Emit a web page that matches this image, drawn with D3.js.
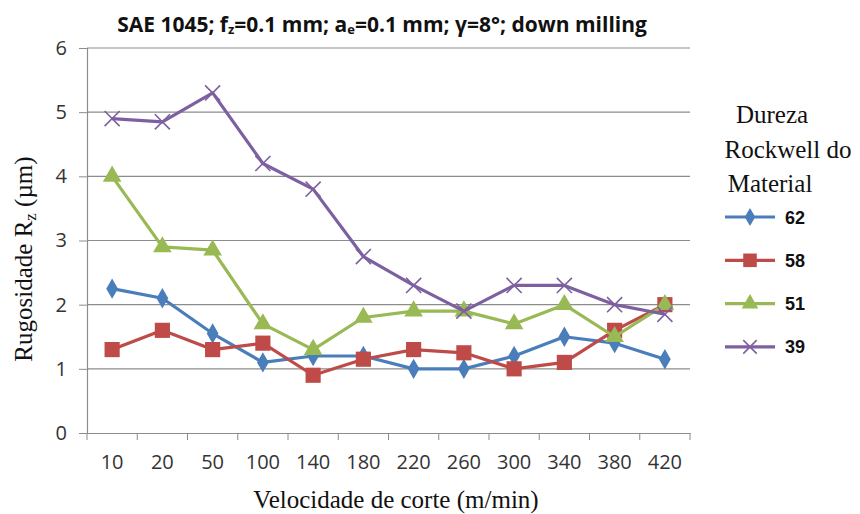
<!DOCTYPE html>
<html>
<head>
<meta charset="utf-8">
<script src="https://cdn.jsdelivr.net/npm/d3@7"></script>
<style>
  body { margin: 0; background: #fff; }
  svg { display: block; }
</style>
</head>
<body>
<div id="chart"></div>
<script>
// data
const speeds = ["10", "20", "50", "100", "140", "180", "220", "260", "300", "340", "380", "420"];
const hard62 = [2.25, 2.1, 1.55, 1.1, 1.2, 1.2, 1.0, 1.0, 1.2, 1.5, 1.4, 1.15];
const hard58 = [1.3, 1.6, 1.3, 1.4, 0.9, 1.15, 1.3, 1.25, 1.0, 1.1, 1.6, 2.0];
const hard51 = [4.0, 2.9, 2.85, 1.7, 1.3, 1.8, 1.9, 1.9, 1.7, 2.0, 1.5, 2.0];
const hard39 = [4.9, 4.85, 5.3, 4.2, 3.8, 2.75, 2.3, 1.9, 2.3, 2.3, 2.0, 1.85];
const yTicks = [0, 1, 2, 3, 4, 5, 6];

const series = [
  { name: "62", values: hard62, color: "#4a7ebb", symbol: "diamond" },
  { name: "58", values: hard58, color: "#be4b48", symbol: "square" },
  { name: "51", values: hard51, color: "#98b954", symbol: "triangle" },
  { name: "39", values: hard39, color: "#7d60a0", symbol: "cross" }
];

const width = 860, height = 514;
const margin = { top: 48, left: 87, right: 170, bottom: 81 };

const svg = d3.select("#chart").append("svg")
  .attr("width", width)
  .attr("height", height);

const x = d3.scaleBand()
  .domain(speeds)
  .range([margin.left, width - margin.right]);

const y = d3.scaleLinear()
  .domain([0, 6])
  .range([height - margin.bottom, margin.top]);

// gridlines
svg.append("g")
  .selectAll("line")
  .data(yTicks.filter(d => d > 0))
  .join("line")
    .attr("x1", margin.left)
    .attr("x2", width - margin.right)
    .attr("y1", d => y(d))
    .attr("y2", d => y(d))
    .attr("stroke", "#8c8c8c")
    .attr("stroke-width", 1.2);

// y axis
const yAxis = svg.append("g")
  .attr("transform", `translate(${margin.left},0)`)
  .call(d3.axisLeft(y).tickValues(yTicks).tickSize(8).tickPadding(12).tickFormat(d3.format("d")));
yAxis.select(".domain").attr("stroke", "#8c8c8c").attr("stroke-width", 1.2);
yAxis.selectAll(".tick line").attr("stroke", "#8c8c8c");
yAxis.selectAll("text")
  .attr("font-family", "'Open Sans', sans-serif")
  .attr("font-size", 20)
  .attr("fill", "#333");

// x axis: ticks at category boundaries
const xAxis = svg.append("g")
  .attr("transform", `translate(0,${y(0)})`)
  .call(d3.axisBottom(x).tickSize(0).tickPadding(22));
xAxis.select(".domain").attr("stroke", "#8c8c8c").attr("stroke-width", 1.2);
xAxis.selectAll("text")
  .attr("font-family", "'Open Sans', sans-serif")
  .attr("font-size", 20)
  .attr("fill", "#333");
xAxis.append("g")
  .selectAll("line")
  .data(speeds.map(s => x(s)).concat([x.range()[1]]))
  .join("line")
    .attr("x1", d => d)
    .attr("x2", d => d)
    .attr("y1", 0)
    .attr("y2", 7)
    .attr("stroke", "#8c8c8c");

// lines
const line = d3.line()
  .x((d, i) => x(speeds[i]) + x.bandwidth() / 2)
  .y(d => y(d));

const symbolType = {
  diamond: d3.symbolDiamond,
  square: d3.symbolSquare,
  triangle: d3.symbolTriangle,
  cross: d3.symbolTimes
};
const symbolSize = { diamond: 120, square: 230, triangle: 150, cross: 150 };

function drawMarker(g, s, scale) {
  const area = symbolSize[s.symbol] * scale;
  if (s.symbol === "cross") {
    g.append("path")
      .attr("d", d3.symbol(d3.symbolTimes, area)())
      .attr("fill", "none")
      .attr("stroke", s.color)
      .attr("stroke-width", 1.6);
  } else {
    g.append("path")
      .attr("d", d3.symbol(symbolType[s.symbol], area)())
      .attr("fill", s.color);
  }
}

series.forEach(s => {
  const g = svg.append("g");
  g.append("path")
    .datum(s.values)
    .attr("d", line)
    .attr("fill", "none")
    .attr("stroke", s.color)
    .attr("stroke-width", 3.2)
    .attr("stroke-linejoin", "round");
  s.values.forEach((v, i) => {
    const m = g.append("g")
      .attr("transform", `translate(${x(speeds[i]) + x.bandwidth() / 2},${y(v)})`);
    drawMarker(m, s, 1);
  });
});

// title
const title = svg.append("text")
  .attr("x", 382)
  .attr("y", 32)
  .attr("text-anchor", "middle")
  .attr("font-family", "'Open Sans', sans-serif")
  .attr("font-weight", "bold")
  .attr("font-size", 21)
  .attr("fill", "#111");
title.append("tspan").text("SAE 1045; f");
title.append("tspan").attr("font-size", 13).attr("dy", 2).text("z");
title.append("tspan").attr("dy", -2).text("=0.1 mm; a");
title.append("tspan").attr("font-size", 13).attr("dy", 2).text("e");
title.append("tspan").attr("dy", -2).text("=0.1 mm; γ=8°; down milling");

// y axis title
const yTitle = svg.append("text")
  .attr("transform", `translate(32,259) rotate(-90)`)
  .attr("text-anchor", "middle")
  .attr("font-family", "'Liberation Serif', serif")
  .attr("font-size", 25)
  .attr("fill", "#111");
yTitle.append("tspan").text("Rugosidade R");
yTitle.append("tspan").attr("font-size", 17).attr("dy", 4).text("z");
yTitle.append("tspan").attr("dy", -4).text(" (µm)");

// x axis title
svg.append("text")
  .attr("x", 396)
  .attr("y", 508)
  .attr("text-anchor", "middle")
  .attr("font-family", "'Liberation Serif', serif")
  .attr("font-size", 25)
  .attr("fill", "#111")
  .text("Velocidade de corte (m/min)");

// legend
const legendTitle = ["Dureza", "Rockwell do", "Material"];
const legTitleX = [772, 788, 770];
svg.append("g")
  .selectAll("text")
  .data(legendTitle)
  .join("text")
    .attr("x", (d, i) => legTitleX[i])
    .attr("y", (d, i) => 123 + i * 34.5)
    .attr("text-anchor", "middle")
    .attr("font-family", "'Liberation Serif', serif")
    .attr("font-size", 25)
    .attr("fill", "#111")
    .text(d => d);

const legend = svg.append("g")
  .selectAll("g")
  .data(series)
  .join("g")
    .attr("transform", (d, i) => `translate(725,${217 + i * 43.3})`);
legend.append("line")
  .attr("x1", 0).attr("x2", 50)
  .attr("stroke", d => d.color)
  .attr("stroke-width", 3.2);
legend.each(function(s) {
  const m = d3.select(this).append("g").attr("transform", "translate(25,0)");
  drawMarker(m, s, 0.8);
});
legend.append("text")
  .attr("x", 60)
  .attr("y", 6.5)
  .attr("font-family", "'Liberation Sans', Arial, sans-serif")
  .attr("font-weight", "bold")
  .attr("font-size", 18)
  .attr("fill", "#111")
  .text(d => d.name);
</script>
</body>
</html>
